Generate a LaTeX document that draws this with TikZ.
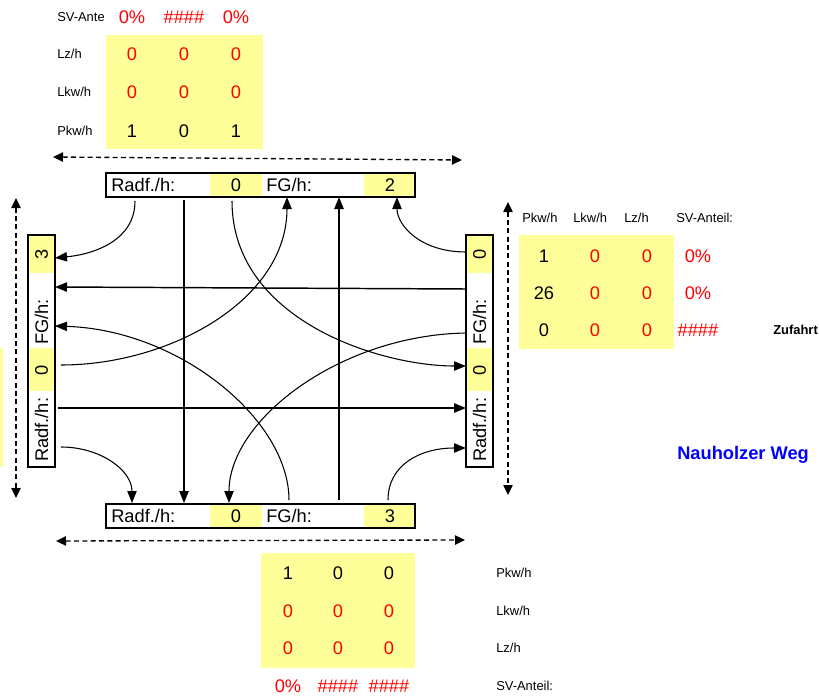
\documentclass[tikz,border=0pt]{standalone}
\usepackage{fontspec}
\setmainfont{Liberation Sans}
\usetikzlibrary{arrows.meta}
\definecolor{cellYellow}{RGB}{255,255,153}
\begin{document}
\begin{tikzpicture}
[x=0.75pt,y=-0.75pt,
  bigText/.style={font=\fontsize{13.7}{16}\selectfont,inner sep=0pt},
  smallText/.style={font=\fontsize{9.7}{12}\selectfont,inner sep=0pt,anchor=west},
  cellDecorate/.style={fill=cellYellow},
  barDecorate/.style={draw,line width=1.5pt,inner sep=0pt},
  flowDecorate/.style={-{Triangle[length=9pt,width=7pt]},line width=1.1pt},
  curveDecorate/.style={flowDecorate,line width=0.8pt},
  dimDecorate/.style={{Triangle[length=7.5pt,width=7pt]}-{Triangle[length=7.5pt,width=7pt]},
    dash pattern=on 3.75pt off 2.5pt,line width=1pt}]
\useasboundingbox (0,0) rectangle (819,696);
%% yellow cells
\foreach \xa/\ya/\xb/\yb in {
  106/35/263/149, 519/235/674/349, 261/553/415/668, 0/348/2.7/467,
  210/173/262/197, 364/173/415/197, 210/504/262/528, 364/504/415/528,
  28/236/55/273, 28/348/55/391, 466/236/493/273, 466/348/493/391}
{
  \fill[cellDecorate] (\xa,\ya) rectangle (\xb,\yb);
}
%% bars
\node (top) at (260.5,185) [barDecorate,minimum width=231.75pt,minimum height=18pt] {};
\node (bottom) at (260.5,516) [barDecorate,minimum width=231.75pt,minimum height=18pt] {};
\node (left) at (41.5,351) [barDecorate,minimum width=20.25pt,minimum height=174pt] {};
\node (right) at (479.5,350.5) [barDecorate,minimum width=20.25pt,minimum height=174pt] {};
\foreach \bname/\y/\rv/\fv in {top/185/0/2, bottom/516/0/3}
{
  \node (\bname-rad) at (111,\y) [bigText,anchor=west] {Radf./h:};
  \node (\bname-fg) at (266,\y) [bigText,anchor=west] {FG/h:};
  \node (\bname-rv) at (236,\y) [bigText] {\rv};
  \node (\bname-fv) at (390,\y) [bigText] {\fv};
}
\foreach \bname/\x/\rv/\fv in {left/41.5/0/3, right/479.5/0/0}
{
  \node (\bname-rad) at (\x,462) [bigText,anchor=west,rotate=90] {Radf./h:};
  \node (\bname-fg) at (\x,345) [bigText,anchor=west,rotate=90] {FG/h:};
  \node (\bname-rv) at (\x,370) [bigText,rotate=90] {\rv};
  \node (\bname-fv) at (\x,254) [bigText,rotate=90] {\fv};
}
%% top counts
\foreach \rname/\y/\txt/\a/\b/\c/\col in {
  sv/17/SV-Ante/0\%/\#\#\#\#/0\%/red, lz/54/{Lz/h}/0/0/0/red,
  lkw/92/{Lkw/h}/0/0/0/red, pkw/131/{Pkw/h}/1/0/1/black}
{
  \node (tl-\rname) at (57,\y) [smallText] {\txt};
  \node (tc-\rname-a) at (132,\y) [bigText,text=\col] {\a};
  \node (tc-\rname-b) at (184,\y) [bigText,text=\col] {\b};
  \node (tc-\rname-c) at (236,\y) [bigText,text=\col] {\c};
}
%% right counts
\foreach \hname/\x/\txt in {pkw/522/{Pkw/h}, lkw/573/{Lkw/h}, lz/624/{Lz/h}, sv/676/SV-Anteil:}
{
  \node (rl-\hname) at (\x,218) [smallText] {\txt};
}
\foreach \rname/\y/\a/\b/\c/\d in {1/256/1/0/0/0\%, 2/293/26/0/0/0\%, 3/330/0/0/0/\#\#\#\#}
{
  \node (rc-\rname-a) at (544,\y) [bigText] {\a};
  \node (rc-\rname-b) at (595,\y) [bigText,text=red] {\b};
  \node (rc-\rname-c) at (647,\y) [bigText,text=red] {\c};
  \node (rc-\rname-d) at (698,\y) [bigText,text=red] {\d};
}
\node (zufahrt) at (773,330) [smallText,font=\fontsize{9.7}{12}\selectfont\bfseries] {Zufahrt};
%% bottom counts
\foreach \rname/\y/\txt/\a/\b/\c/\col in {
  pkw/573/{Pkw/h}/1/0/0/black, lkw/611/{Lkw/h}/0/0/0/red,
  lz/648/{Lz/h}/0/0/0/red, sv/686/SV-Anteil:/0\%/\#\#\#\#/\#\#\#\#/red}
{
  \node (bl-\rname) at (496,\y) [smallText] {\txt};
  \node (bc-\rname-a) at (288,\y) [bigText,text=\col] {\a};
  \node (bc-\rname-b) at (338,\y) [bigText,text=\col] {\b};
  \node (bc-\rname-c) at (389,\y) [bigText,text=\col] {\c};
}
\node (street) at (677,455) [bigText,anchor=west,text=blue,font=\fontsize{13.7}{16}\selectfont\bfseries] {Nauholzer Weg};
%% ports
\foreach \pname/\x/\y in {
  t1/135/201, t2/184/200, t3/232/201, t4/287/197, t5/339/197, t6/397/197,
  b2/184/503, b5/339/500, b8/289/500, b9/229/503, b11/132/503, b12/388/500,
  l1/55/258, l4/61/365, l7/55/287, l8/55/326, l10/58/408, l11/61/447,
  r3/466/366, r6/466/252, r7/466/289, r9/466/333, r10/466/408, r12/466/448,
  dt1/53/157, dt2/462/160, db1/56/541, db2/465/540,
  dl1/16/198, dl2/16/498, dr1/508/202, dr2/508/495}
{
  \coordinate (\pname) at (\x,\y);
}
%% streams
\foreach \startnode/\endnode in {t2/b2, b5/t5, r7/l7, l10/r10}
{
  \draw[flowDecorate] (\startnode) -- (\endnode);
}
\draw[curveDecorate] (t1) .. controls +(0,39) and +(40,-4) .. (l1);
\draw[curveDecorate] (t3) .. controls +(0,119) and +(-86,0) .. (r3);
\draw[curveDecorate] (l4) .. controls +(109,0) and +(0,103) .. (t4);
\draw[curveDecorate] (r6) .. controls +(-46,0) and +(0,28) .. (t6);
\draw[curveDecorate] (b8) .. controls +(0,-80) and +(125,4) .. (l8);
\draw[curveDecorate] (r9) .. controls +(-126,2) and +(0,-83) .. (b9);
\draw[curveDecorate] (l11) .. controls +(39,0) and +(0,-33) .. (b11);
\draw[curveDecorate] (b12) .. controls +(0,-35) and +(-46,0) .. (r12);
%% dimension arrows
\foreach \startnode/\endnode in {dt1/dt2, db1/db2, dl1/dl2, dr1/dr2}
{
  \draw[dimDecorate] (\startnode) -- (\endnode);
}
\end{tikzpicture}
\end{document}
